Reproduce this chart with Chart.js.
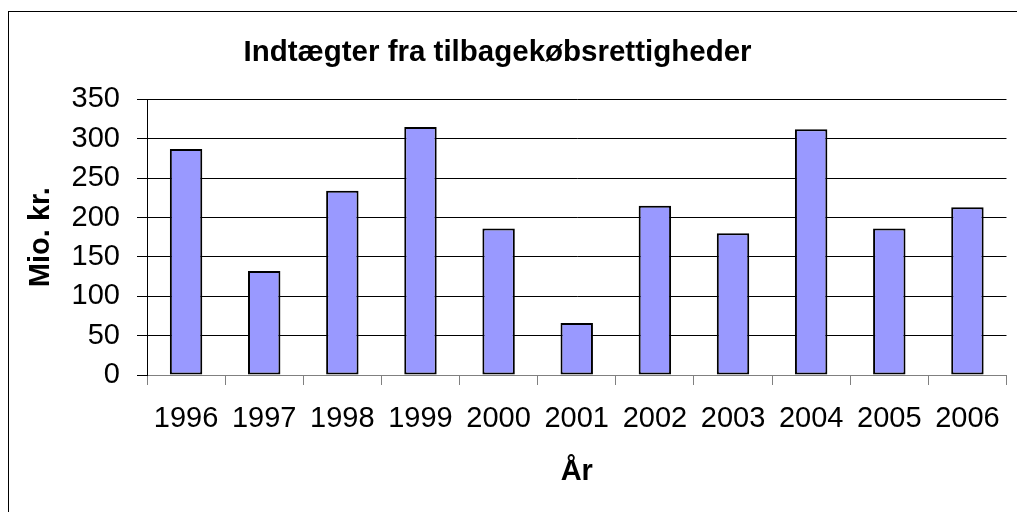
<!DOCTYPE html>
<html>
<head>
<meta charset="utf-8">
<script src="https://cdn.jsdelivr.net/npm/chart.js@4"></script>
<style>
  html, body { margin: 0; padding: 0; background: #fff; }
  #wrap { width: 1017px; height: 512px; }
</style>
</head>
<body>
<div id="wrap"><canvas id="salesChart"></canvas></div>
<script>
// Indtægter fra tilbagekøbsrettigheder
const years = ["1996", "1997", "1998", "1999", "2000", "2001", "2002", "2003", "2004", "2005", "2006"];
const revenue = [287, 132, 234, 315, 186, 66, 215, 180, 312, 186, 213];
const yTicks = [0, 50, 100, 150, 200, 250, 300, 350];

const FONT = "'Liberation Sans', Arial, sans-serif";

// thin frame around the chart, cut off at right/bottom like the source
const framePlugin = {
  id: "frame",
  afterLayout(chart) {
    // title sits a bit left of the canvas centre in the source
    if (chart.titleBlock) chart.titleBlock.right -= 25;
  },
  beforeDraw(chart) {
    const ctx = chart.ctx;
    ctx.save();
    ctx.fillStyle = "#fff";
    ctx.fillRect(0, 0, chart.width, chart.height);
    ctx.strokeStyle = "#000";
    ctx.lineWidth = 1;
    ctx.strokeRect(8.5, 11.5, chart.width + 20, chart.height + 20);
    ctx.restore();
  }
};

new Chart(document.getElementById("salesChart"), {
  type: "bar",
  data: {
    labels: years,
    datasets: [{
      label: "Mio. kr.",
      data: revenue,
      backgroundColor: "#9999ff",
      borderColor: "#000",
      borderWidth: 2,
      borderSkipped: false,
      barPercentage: 0.415,
      categoryPercentage: 1
    }]
  },
  options: {
    responsive: true,
    maintainAspectRatio: false,
    animation: false,
    layout: { padding: { left: 10, right: 7, top: 0, bottom: 0 } },
    plugins: {
      legend: { display: false },
      tooltip: { enabled: false },
      title: {
        display: true,
        text: "Indtægter fra tilbagekøbsrettigheder",
        color: "#000",
        font: { family: FONT, size: 29.5, weight: "bold" },
        padding: { top: 35, bottom: 29 }
      }
    },
    scales: {
      x: {
        grid: {
          offset: true,
          drawOnChartArea: false,
          drawTicks: true,
          tickLength: 10,
          tickColor: "#808080"
        },
        border: { color: "#808080", width: 1 },
        ticks: {
          color: "#000",
          font: { family: FONT, size: 29 },
          padding: 17,
          maxRotation: 0,
          autoSkip: false
        },
        title: {
          display: true,
          text: "År",
          color: "#000",
          font: { family: FONT, size: 29, weight: "bold" },
          padding: { top: 10, bottom: 23 }
        },
        afterFit(scale) { scale.height = 137; }
      },
      y: {
        min: 0,
        max: 350,
        grid: {
          color: "#000",
          lineWidth: 1,
          tickLength: 10,
          tickColor: "#000"
        },
        border: { color: "#000", width: 1 },
        afterBuildTicks(scale) {
          scale.ticks = yTicks.map(v => ({ value: v }));
        },
        ticks: {
          color: "#000",
          font: { family: FONT, size: 29 },
          padding: 17
        },
        title: {
          display: true,
          text: "Mio. kr.",
          color: "#000",
          font: { family: FONT, size: 29, weight: "bold" },
          padding: { top: 14, bottom: 0 }
        },
        afterFit(scale) { scale.width = 137; }
      }
    }
  },
  plugins: [framePlugin]
});
</script>
</body>
</html>
